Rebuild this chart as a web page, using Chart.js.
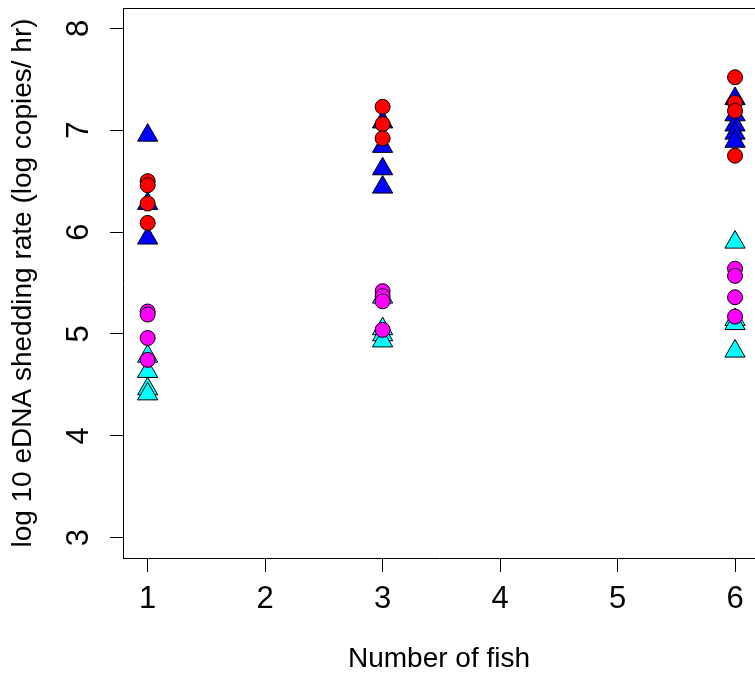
<!DOCTYPE html>
<html>
<head>
<meta charset="utf-8">
<script src="https://cdn.jsdelivr.net/npm/chart.js@4"></script>
<style>
  html, body { margin: 0; padding: 0; background: #fff; }
  #wrap { width: 755px; height: 674px; }
</style>
</head>
<body>
<div id="wrap"><canvas id="scatter" width="755" height="674"></canvas></div>
<script>
// shedding rates per fish count (log10 copies/hr), one list per tank size
const fishCounts = [1, 3, 6];
const redRates = [[6.50, 6.46, 6.28, 6.09], [7.23, 7.06, 6.92], [7.52, 7.27, 7.19, 6.75]];
const blueRates = [[6.95, 6.28, 5.94], [7.08, 6.84, 6.62, 6.44], [7.31, 7.15, 7.05, 6.97, 6.89]];
const magentaRates = [[5.22, 5.19, 4.96, 4.745], [5.42, 5.37, 5.32, 5.04], [5.64, 5.57, 5.36, 5.17]];
const cyanRates = [[4.78, 4.63, 4.46, 4.41], [5.36, 5.05, 4.99, 4.93], [5.90, 5.14, 5.10, 4.83]];

const xTicks = [1, 2, 3, 4, 5, 6];
const yTicks = [3, 4, 5, 6, 7, 8];

const xLabel = "Number of fish";
const yLabel = "log 10 eDNA shedding rate (log copies/ hr)";

function toPoints(rates) {
  const pts = [];
  rates.forEach((vals, i) => {
    vals.forEach(v => pts.push({ x: fishCounts[i], y: v }));
  });
  return pts;
}

function series(rates, color, shape, radius) {
  return {
    data: toPoints(rates),
    pointStyle: shape,
    pointRadius: radius,
    pointHoverRadius: radius,
    backgroundColor: color,
    borderColor: "#000",
    borderWidth: 1,
    showLine: false,
  };
}

// no extra room for overhanging labels, the box runs to the canvas edge
function noPadding(s) {
  s.paddingLeft = 0;
  s.paddingRight = 0;
  s.paddingTop = 0;
  s.paddingBottom = 0;
}

// box lines (top edge) and rotated y tick labels, R style
const frame = {
  id: "frame",
  afterDraw(chart) {
    const { ctx, chartArea, scales } = chart;
    ctx.save();
    ctx.strokeStyle = "#000";
    ctx.lineWidth = 1;
    ctx.beginPath();
    ctx.moveTo(chartArea.left, chartArea.top + 0.5);
    ctx.lineTo(chartArea.right, chartArea.top + 0.5);
    ctx.stroke();

    ctx.fillStyle = "#000";
    ctx.font = "31px 'Liberation Sans', Arial, sans-serif";
    ctx.textAlign = "center";
    ctx.textBaseline = "alphabetic";
    yTicks.forEach(v => {
      const y = scales.y.getPixelForValue(v);
      ctx.save();
      ctx.translate(88, y);
      ctx.rotate(-Math.PI / 2);
      ctx.fillText(String(v), 0, 0);
      ctx.restore();
    });
    ctx.restore();
  }
};

new Chart(document.getElementById("scatter"), {
  type: "scatter",
  data: {
    datasets: [
      series(redRates, "#ff0000", "circle", 7.5),
      series(magentaRates, "#ff00ff", "circle", 7.5),
      series(blueRates, "#0000ff", "triangle", 11.7),
      series(cyanRates, "#00ffff", "triangle", 11.7),
    ],
  },
  options: {
    responsive: false,
    animation: false,
    devicePixelRatio: 1,
    layout: { autoPadding: false, padding: { top: 8, right: 0, left: 0, bottom: 0 } },
    plugins: {
      legend: { display: false },
      tooltip: { enabled: false },
    },
    scales: {
      x: {
        type: "linear",
        min: 0.79,
        max: 6.17,
        afterFit: s => { s.height = 116; noPadding(s); },
        afterBuildTicks: s => { s.ticks = xTicks.map(v => ({ value: v })); },
        border: { display: true, color: "#000", width: 1 },
        grid: { drawOnChartArea: false, drawTicks: true, tickLength: 14, color: "#000" },
        ticks: {
          color: "#000",
          padding: 9,
          font: { family: "'Liberation Sans', Arial, sans-serif", size: 31 },
          callback: v => String(v),
        },
        title: {
          display: true,
          text: xLabel,
          color: "#000",
          padding: { top: 0, bottom: -2 },
          font: { family: "'Liberation Sans', Arial, sans-serif", size: 28 },
        },
      },
      y: {
        type: "linear",
        min: 2.8,
        max: 8.2,
        afterFit: s => { s.width = 123; noPadding(s); },
        afterBuildTicks: s => { s.ticks = yTicks.map(v => ({ value: v })); },
        border: { display: true, color: "#000", width: 1 },
        grid: { drawOnChartArea: false, drawTicks: true, tickLength: 13, color: "#000" },
        ticks: { display: false },
        title: {
          display: true,
          text: yLabel,
          color: "#000",
          padding: { top: 6, bottom: 0 },
          font: { family: "'Liberation Sans', Arial, sans-serif", size: 28 },
        },
      },
    },
  },
  plugins: [frame],
});
</script>
</body>
</html>
